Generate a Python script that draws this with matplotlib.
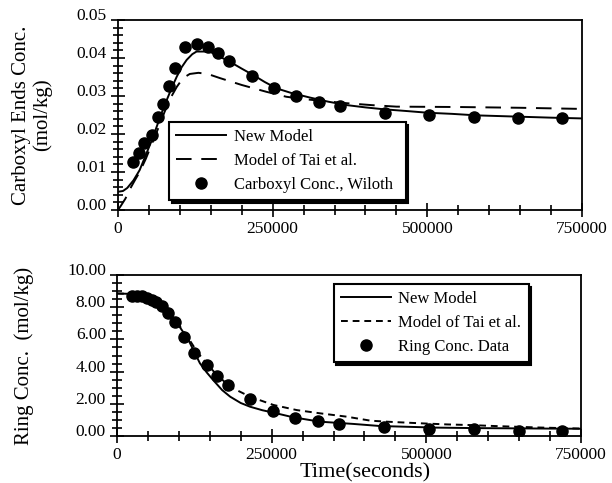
import matplotlib
matplotlib.use("Agg")
import matplotlib.pyplot as plt
from matplotlib.ticker import MultipleLocator, FormatStrFormatter

plt.rcParams["font.family"] = ["Liberation Serif", "DejaVu Serif"]

# Carboxyl ends (top panel)
carb_t = [24800, 34400, 42500, 54400, 64100, 72200, 82900, 92100, 108800, 127200,
          145000, 161200, 179900, 216100, 252200, 288500, 324500, 359000, 431000,
          503100, 575200, 647200, 718000]
carb_c = [0.0127, 0.0149, 0.0175, 0.0197, 0.0244, 0.0279, 0.0327, 0.0373, 0.0430, 0.0437,
          0.0430, 0.0414, 0.0393, 0.0352, 0.0322, 0.0300, 0.0284, 0.0274, 0.0256,
          0.0249, 0.0245, 0.0243, 0.0241]

new_carb_t = [0, 8000, 15000, 25000, 35000, 46000, 55000, 62500, 70000, 78700, 87000,
              95000, 103000, 111000, 120000, 127000, 148000, 165000, 181000, 200000,
              218700, 237000, 256500, 280000, 310000, 340000, 370000, 400000, 430000,
              470000, 500000, 540000, 580000, 620000, 660000, 700000, 750000]
new_carb_c = [0.0048, 0.0050, 0.0058, 0.0078, 0.0105, 0.0149, 0.0185, 0.0219, 0.0253,
              0.0289, 0.0322, 0.0351, 0.0376, 0.0395, 0.0410, 0.0417, 0.0417, 0.0403,
              0.0390, 0.0372, 0.0355, 0.0337, 0.0320, 0.0308, 0.0296, 0.0285, 0.0276,
              0.0270, 0.0265, 0.0260, 0.0256, 0.0253, 0.0249, 0.0247, 0.0245, 0.0243,
              0.0241]

tai_carb_t = [0, 5000, 12000, 20000, 27500, 35000, 45000, 55000, 65000, 75000, 85000,
              95000, 105000, 116000, 130000, 145000, 165000, 200000, 240000, 272000,
              300000, 330000, 370000, 410000, 450000, 550000, 650000, 750000]
tai_carb_c = [0.0, 0.0012, 0.0030, 0.0057, 0.0079, 0.0100, 0.0135, 0.0175, 0.0215,
              0.0257, 0.0295, 0.0324, 0.0347, 0.0358, 0.0361, 0.0358, 0.0347, 0.0329,
              0.0311, 0.0298, 0.0292, 0.0287, 0.0281, 0.0276, 0.0272, 0.0271, 0.0269,
              0.0266]

# Ring concentration (bottom panel)
ring_t = [23700, 31800, 39900, 48000, 56100, 63000, 72200, 83000, 93800, 108300,
          125000, 145000, 161500, 180000, 214500, 252700, 287000, 324500, 359500,
          431000, 503800, 576500, 649000, 719500]
ring_c = [8.72, 8.72, 8.67, 8.60, 8.47, 8.34, 8.08, 7.62, 7.08, 6.12,
          5.15, 4.42, 3.72, 3.16, 2.28, 1.57, 1.13, 0.91, 0.77,
          0.56, 0.46, 0.42, 0.33, 0.32]

new_ring_t = [0, 20000, 40000, 60000, 80000, 100000, 115000, 134000, 145000, 156000,
              170000, 183000, 200000, 215000, 235000, 253000, 285000, 328000, 382000,
              425000, 462000, 517000, 580000, 624000, 700000, 750000]
new_ring_c = [8.85, 8.83, 8.72, 8.45, 7.85, 6.85, 6.0, 4.52, 3.95, 3.45,
              2.85, 2.44, 2.05, 1.82, 1.60, 1.45, 1.16, 0.89, 0.75,
              0.62, 0.58, 0.52, 0.49, 0.48, 0.46, 0.45]

tai_ring_t = [0, 20000, 40000, 60000, 80000, 100000, 115000, 130000, 145000, 160000,
              182600, 215000, 252700, 290500, 328000, 371300, 410000, 441000, 489800,
              533000, 570600, 610000, 680000, 750000]
tai_ring_c = [8.85, 8.83, 8.72, 8.45, 7.85, 6.9, 6.1, 5.2, 4.5, 3.85,
              3.06, 2.44, 1.93, 1.61, 1.41, 1.20, 0.95, 0.88, 0.79,
              0.72, 0.68, 0.62, 0.53, 0.46]

fig = plt.figure(figsize=(6.12, 4.83), dpi=100)
ax1 = fig.add_axes([118 / 612, 1 - 210 / 483, 464 / 612, 190 / 483])
ax2 = fig.add_axes([117 / 612, 1 - 436 / 483, 464 / 612, 161 / 483])


def style_axes(ax):
    for s in ax.spines.values():
        s.set_linewidth(1.3)
    ax.tick_params(which="both", direction="inout", top=False, right=False,
                   labelsize=12.5, width=1.2, pad=3)
    ax.tick_params(which="major", length=10)
    ax.tick_params(which="minor", length=7)
    ax.xaxis.set_major_locator(MultipleLocator(250000))
    ax.xaxis.set_minor_locator(MultipleLocator(50000))
    ax.xaxis.set_major_formatter(FormatStrFormatter("%d"))
    ax.set_xlim(0, 750000)


def boxed_legend(ax, anchor):
    leg = ax.legend(loc="lower left", bbox_to_anchor=anchor, mode="expand",
                    borderaxespad=0, fancybox=False, framealpha=1,
                    edgecolor="black", fontsize=12, handlelength=3,
                    handletextpad=0.45, labelspacing=0.48, borderpad=0.42,
                    shadow={"color": "black", "alpha": 1})
    leg.get_frame().set_linewidth(1.5)
    return leg


# top panel
ax1.plot(new_carb_t, new_carb_c, color="black", lw=1.4, label="New Model")
ax1.plot(tai_carb_t, tai_carb_c, color="black", lw=1.4, dashes=(8, 5),
         label="Model of Tai et al.")
ax1.plot(carb_t, carb_c, "o", color="black", ms=8, label="Carboxyl Conc., Wiloth")
style_axes(ax1)
ax1.set_ylim(0, 0.05)
ax1.yaxis.set_major_locator(MultipleLocator(0.01))
ax1.yaxis.set_minor_locator(MultipleLocator(0.002))
ax1.yaxis.set_major_formatter(FormatStrFormatter("%.2f"))
ax1.set_ylabel("Carboxyl Ends Conc.\n(mol/kg)", fontsize=15, linespacing=1.1)
ax1.yaxis.set_label_coords(-0.142, 0.5)
boxed_legend(ax1, (0.11, 0.052, 0.51, 0.406))

# bottom panel
ax2.plot(new_ring_t, new_ring_c, color="black", lw=1.4, label="New Model")
ax2.plot(tai_ring_t, tai_ring_c, color="black", lw=1.4, dashes=(3.5, 2.5),
         label="Model of Tai et al.")
ax2.plot(ring_t, ring_c, "o", color="black", ms=8, label="Ring Conc. Data")
style_axes(ax2)
ax2.set_ylim(0, 10)
ax2.yaxis.set_major_locator(MultipleLocator(2))
ax2.yaxis.set_minor_locator(MultipleLocator(0.5))
ax2.yaxis.set_major_formatter(FormatStrFormatter("%.2f"))
ax2.set_ylabel("Ring Conc.  (mol/kg)", fontsize=15)
ax2.yaxis.set_label_coords(-0.179, 0.5)
ax2.set_xlabel("Time(seconds)", fontsize=16, labelpad=0)
ax2.xaxis.set_label_coords(0.534, -0.17)
boxed_legend(ax2, (0.467, 0.46, 0.42, 0.474))

for ax in (ax1, ax2):
    for lab in ax.get_yticklabels():
        lab.set_va("baseline")

fig.savefig("out.png", dpi=100)
